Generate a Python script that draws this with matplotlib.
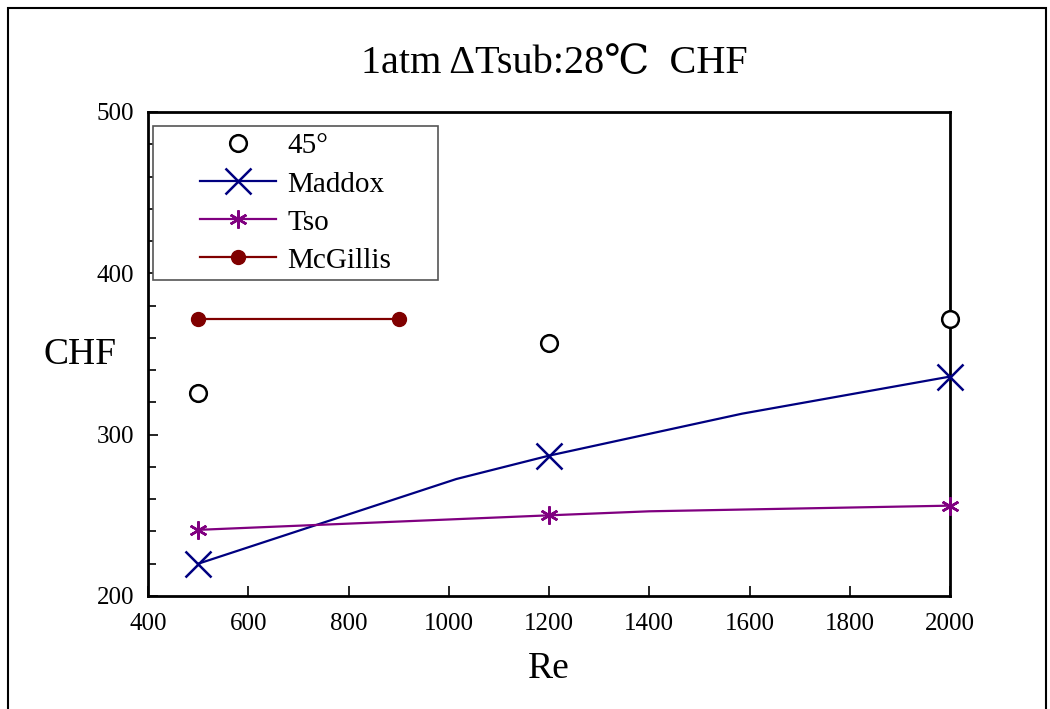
import matplotlib.pyplot as plt
from matplotlib.patches import Rectangle
from matplotlib.ticker import MultipleLocator

plt.rcParams['font.family'] = ['Liberation Serif', 'DejaVu Serif', 'Noto Sans CJK SC']

# 実験値 (45°)
re_exp = [500, 1200, 2000]
chf_exp = [326, 357, 372]

# 相関式
re_maddox = [500, 1015, 1200, 1585, 2000]
chf_maddox = [220, 272.5, 287, 313, 336]
maddox_marks = [0, 2, 4]

re_tso = [500, 1200, 1400, 2000]
chf_tso = [241, 250, 252.5, 256]
tso_marks = [0, 1, 3]

re_mcgillis = [500, 900]
chf_mcgillis = [372, 372]

W, H = 1050, 709
fig = plt.figure(figsize=(W / 100, H / 100), dpi=100)
ax = fig.add_axes([148 / W, 1 - 596 / H, 802 / W, 484 / H])

ax.plot(re_exp, chf_exp, linestyle='none', marker='o', markersize=12,
        markerfacecolor='white', markeredgecolor='black', markeredgewidth=1.8,
        label='45°', clip_on=False, zorder=5)
ax.plot(re_maddox, chf_maddox, color='#000080', lw=1.6, marker='x',
        markersize=19, markeredgewidth=1.8, markevery=maddox_marks,
        label='Maddox', clip_on=False, zorder=4)
ax.plot(re_tso, chf_tso, color='#800080', lw=1.6, marker=(6, 2, 0),
        markersize=13, markeredgewidth=1.8, markevery=tso_marks,
        label='Tso', clip_on=False, zorder=4)
ax.plot(re_mcgillis, chf_mcgillis, color='#800000', lw=1.6, marker='o',
        markersize=10, label='McGillis', zorder=4)

ax.set_xlim(400, 2000)
ax.set_ylim(200, 500)
ax.xaxis.set_major_locator(MultipleLocator(200))
ax.yaxis.set_major_locator(MultipleLocator(100))
ax.yaxis.set_minor_locator(MultipleLocator(20))
ax.tick_params(axis='both', which='both', direction='in', labelsize=18, width=1.2)
ax.tick_params(axis='both', which='major', length=7)
ax.tick_params(axis='y', which='minor', length=6)
ax.tick_params(axis='x', pad=12)
ax.tick_params(axis='y', pad=10)
for s in ax.spines.values():
    s.set_linewidth(2)

ax.set_xlabel('Re', fontsize=27, labelpad=12)
ax.set_ylabel('CHF', fontsize=27, rotation=0, labelpad=0, va='center', ha='center')
ax.yaxis.set_label_coords(-0.085, (596 - 355) / 484)

fig.text(0.528, 1 - 64 / H, '1atm ΔTsub:28℃  CHF', fontsize=29, ha='center', va='center')

# 凡例（枠は別に描く）
leg = ax.legend(loc='upper left', bbox_to_anchor=(52 / 802, 1 - 21 / 484),
                fontsize=21, frameon=False, borderpad=0.0, labelspacing=0.4,
                handlelength=2.6, handletextpad=0.4, borderaxespad=0)
leg.set_zorder(7)
ax.add_patch(Rectangle((153 / W, 1 - 280 / H), 285 / W, 154 / H,
                       transform=fig.transFigure, fill=True, facecolor='white',
                       edgecolor='#555555', lw=1.2, zorder=6, clip_on=False))

# 外枠
fig.add_artist(Rectangle((8 / W, -0.02), 1038 / W, 1.02 - 8 / H, transform=fig.transFigure,
                         fill=False, edgecolor='black', lw=1.5))

fig.savefig('out.png', dpi=100)
